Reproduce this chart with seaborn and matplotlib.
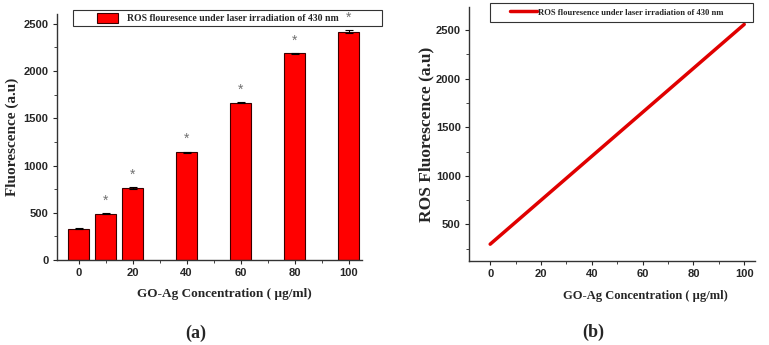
import matplotlib.pyplot as plt
import seaborn as sns
import pandas as pd
from matplotlib.patches import Patch, Rectangle

# Data
conc = [0, 10, 20, 40, 60, 80, 100]
fluor = [330, 490, 760, 1140, 1665, 2185, 2415]
err = [6, 6, 12, 8, 4, 8, 15]
star_conc = [10, 20, 40, 60, 80, 100]

line_conc = [0, 100]
line_fluor = [295, 2560]

legend_text = 'ROS flouresence under laser irradiation of 430 nm'
xlabel = 'GO-Ag Concentration ( \u00b5g/ml)'

sns.set_style('ticks')
plt.rcParams['font.family'] = ['Liberation Sans', 'DejaVu Sans']

df = pd.DataFrame({'conc': conc, 'fluor': fluor})
df_line = pd.DataFrame({'conc': line_conc, 'fluor': line_fluor})

fig = plt.figure(figsize=(7.69, 3.45), dpi=100)
ax1 = fig.add_axes([0.074, 0.246, 0.397, 0.713])
ax2 = fig.add_axes([0.610, 0.243, 0.372, 0.737])

serif = ['Liberation Serif', 'DejaVu Serif']

# (a) bar chart
sns.barplot(data=df, x='conc', y='fluor', native_scale=True, color='#ff0000',
            saturation=1, edgecolor='#3a0000', linewidth=0.8, ax=ax1, errorbar=None)
ax1.errorbar(conc, fluor, yerr=err, fmt='none', ecolor='black', elinewidth=0.8,
             capsize=3, capthick=0.8)
for c in star_conc:
    v = fluor[conc.index(c)] + err[conc.index(c)]
    ax1.text(c, v + 130, '*', color='#707070', ha='center', va='center',
             fontsize=10, zorder=7, clip_on=False)
ax1.set_xlim(-8, 105)
ax1.set_ylim(0, 2600)
ax1.set_xticks([0, 20, 40, 60, 80, 100])
ax1.set_xticks([10, 30, 50, 70, 90], minor=True)
ax1.set_yticks([0, 500, 1000, 1500, 2000, 2500])
ax1.set_yticks([250, 750, 1250, 1750, 2250], minor=True)
ax1.set_xlabel(xlabel, fontfamily=serif, fontweight='bold', fontsize=9.5)
ax1.xaxis.set_label_coords(0.548, -0.115)
ax1.set_ylabel('Fluorescence (a.u)', fontfamily=serif, fontweight='bold', fontsize=11)
ax1.yaxis.set_label_coords(-0.125, 0.5)

# (b) line chart
sns.lineplot(data=df_line, x='conc', y='fluor', color='#e00000', linewidth=2.5,
             ax=ax2, label=legend_text)
ax2.set_xlim(-8.3, 104.3)
ax2.set_ylim(120, 2740)
ax2.set_xticks([0, 20, 40, 60, 80, 100])
ax2.set_xticks([10, 30, 50, 70, 90], minor=True)
ax2.set_yticks([500, 1000, 1500, 2000, 2500])
ax2.set_yticks([250, 750, 1250, 1750, 2250], minor=True)
ax2.set_xlabel(xlabel, fontfamily=serif, fontweight='bold', fontsize=9)
ax2.xaxis.set_label_coords(0.615, -0.115)
ax2.set_ylabel('ROS Fluorescence (a.u)', fontfamily=serif, fontweight='bold', fontsize=12.5)
ax2.yaxis.set_label_coords(-0.122, 0.5)

for ax in (ax1, ax2):
    sns.despine(ax=ax)
    for s in ('left', 'bottom'):
        ax.spines[s].set_color('#333333')
        ax.spines[s].set_linewidth(1.0)
    ax.tick_params(axis='both', which='major', direction='out', length=3, width=0.8,
                   labelsize=8, pad=3)
    ax.tick_params(axis='both', which='minor', direction='out', length=2, width=0.6)
    for lab in ax.get_xticklabels() + ax.get_yticklabels():
        lab.set_fontweight('bold')

# legend frames (the box is wider than the entry in the original)
ax1.add_patch(Rectangle((0.052, 0.951), 1.013, 0.065, transform=ax1.transAxes,
                        facecolor='white', edgecolor='#333333', linewidth=0.8,
                        zorder=4, clip_on=False))
ax2.add_patch(Rectangle((0.073, 0.941), 0.92, 0.075, transform=ax2.transAxes,
                        facecolor='white', edgecolor='#333333', linewidth=0.8,
                        zorder=4, clip_on=False))

bar_handle = Patch(facecolor='#ff0000', edgecolor='#3a0000', linewidth=0.8)
leg1 = ax1.legend([bar_handle], [legend_text], loc='center left',
                  bbox_to_anchor=(0.131, 0.984), frameon=False,
                  prop={'family': serif, 'weight': 'bold', 'size': 7},
                  borderpad=0, handlelength=2.2, handleheight=1.2,
                  handletextpad=0.9, borderaxespad=0)
leg1.set_zorder(5)

h2, l2 = ax2.get_legend_handles_labels()
leg2 = ax2.legend(h2, l2, loc='center left', bbox_to_anchor=(0.143, 0.978),
                  frameon=False,
                  prop={'family': serif, 'weight': 'bold', 'size': 6.2},
                  borderpad=0, handlelength=3.1, handletextpad=0.1,
                  borderaxespad=0)
leg2.set_zorder(5)

fig.text(0.254, 0.035, '(a)', fontfamily=serif, fontweight='bold', fontsize=13,
         ha='center', va='center')
fig.text(0.771, 0.038, '(b)', fontfamily=serif, fontweight='bold', fontsize=13,
         ha='center', va='center')

fig.savefig('out.png', dpi=100)
